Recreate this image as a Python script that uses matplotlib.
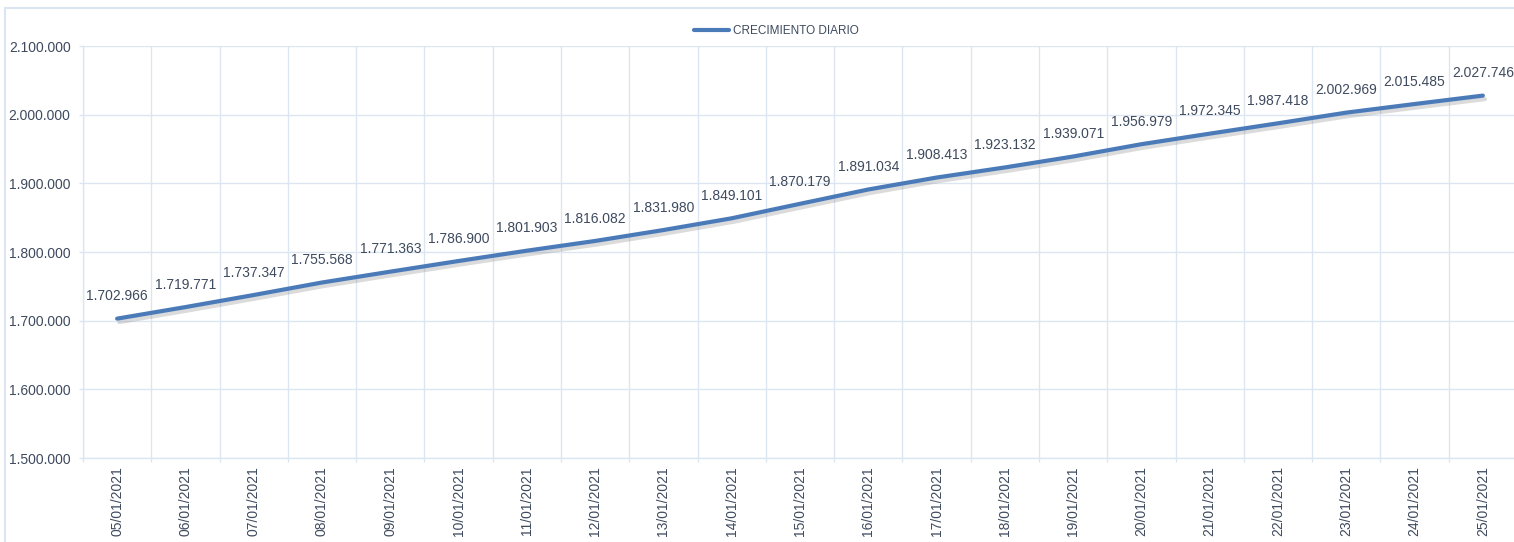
import matplotlib
matplotlib.use("Agg")
import matplotlib.pyplot as plt
import matplotlib.patheffects as pe
from matplotlib.patches import Rectangle
from matplotlib.ticker import FuncFormatter, FixedLocator

dates = ["05/01/2021", "06/01/2021", "07/01/2021", "08/01/2021", "09/01/2021",
         "10/01/2021", "11/01/2021", "12/01/2021", "13/01/2021", "14/01/2021",
         "15/01/2021", "16/01/2021", "17/01/2021", "18/01/2021", "19/01/2021",
         "20/01/2021", "21/01/2021", "22/01/2021", "23/01/2021", "24/01/2021",
         "25/01/2021"]
values = [1702966, 1719771, 1737347, 1755568, 1771363, 1786900, 1801903,
          1816082, 1831980, 1849101, 1870179, 1891034, 1908413, 1923132,
          1939071, 1956979, 1972345, 1987418, 2002969, 2015485, 2027746]
series_name = "CRECIMIENTO DIARIO"
y_ticks = [1500000, 1600000, 1700000, 1800000, 1900000, 2000000, 2100000]

plt.rcParams['font.family'] = ['Liberation Sans', 'DejaVu Sans']

W, H = 1514, 542
fig = plt.figure(figsize=(W / 100, H / 100), dpi=100)
ax = fig.add_axes([83 / W, 1 - 458 / H, (1517 - 83) / W, (458 - 46) / H])

grid_c = '#dce6f2'
text_c = '#3e4a5e'
line_c = '#4a7ab8'

x = list(range(len(dates)))
ax.plot(x, values, color=line_c, lw=3, solid_capstyle='round', zorder=3,
        path_effects=[pe.SimpleLineShadow(offset=(1.5, -2.5), shadow_color='#888888', alpha=0.3),
                      pe.Normal()])

for xi, v in zip(x, values):
    lab = f"{v:,}".replace(",", ".")
    ax.annotate(lab, (xi, v), xytext=(0, 16), textcoords='offset points',
                ha='center', va='center', fontsize=10, color=text_c, zorder=4)

ax.set_xlim(-0.5, len(dates) - 0.5)
ax.set_ylim(y_ticks[0], y_ticks[-1])
ax.set_yticks(y_ticks)
ax.yaxis.set_major_formatter(FuncFormatter(lambda v, p: f"{int(v):,}".replace(",", ".")))
ax.set_xticks(x)
ax.set_xticklabels(dates, rotation=90, fontsize=10, color=text_c, va='top', ha='center')
ax.xaxis.set_minor_locator(FixedLocator([i - 0.5 for i in range(len(dates) + 1)]))

ax.tick_params(axis='x', which='major', length=0, pad=6)
ax.tick_params(axis='x', which='minor', length=3, color=grid_c, width=1)
ax.tick_params(axis='y', which='major', length=3, color=grid_c, width=1,
               labelsize=10, labelcolor=text_c, pad=6)

ax.grid(True, axis='y', which='major', color=grid_c, lw=1)
ax.grid(True, axis='x', which='minor', color=grid_c, lw=1)
ax.grid(False, axis='x', which='major')
ax.set_axisbelow(True)

for s in ['top', 'right']:
    ax.spines[s].set_visible(False)
for s in ['left', 'bottom']:
    ax.spines[s].set_color(grid_c)
    ax.spines[s].set_linewidth(1)

leg = fig.legend([ax.lines[0]], [series_name], loc='center',
                 bbox_to_anchor=(776 / W, 1 - 31 / H), frameon=False,
                 fontsize=8.5, labelcolor=text_c, handlelength=3.0, handletextpad=0.3)
for h in leg.legend_handles:
    h.set_path_effects([])

border = Rectangle((5 / W, -0.2), 1.2, 1 - 8 / H + 0.2, transform=fig.transFigure,
                   fill=False, edgecolor=grid_c, lw=1.5)
fig.patches.append(border)

fig.savefig("out.png", dpi=100)
